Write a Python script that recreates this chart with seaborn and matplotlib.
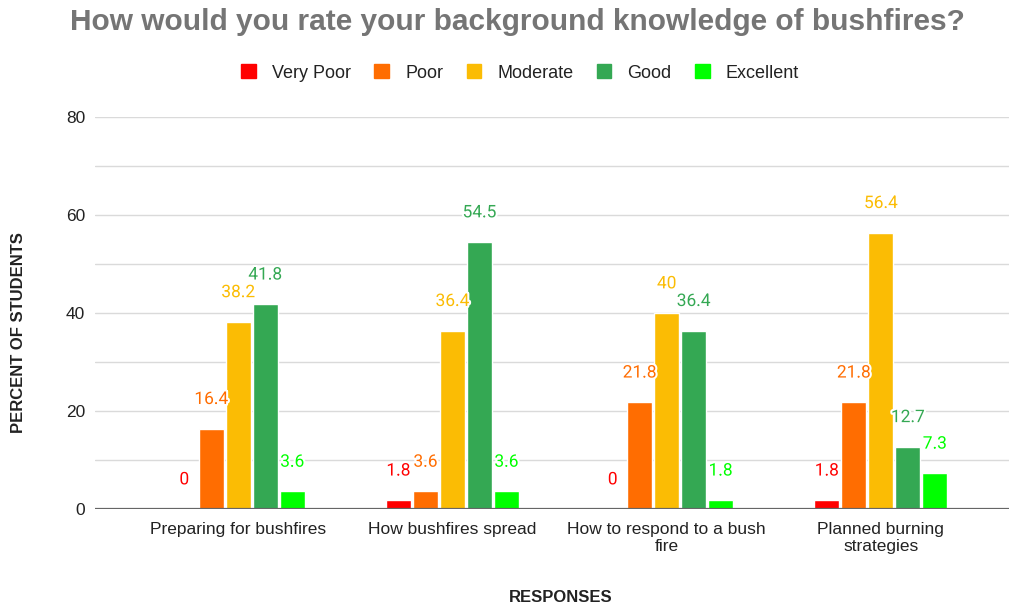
import pandas as pd
import matplotlib.pyplot as plt
import matplotlib.patheffects as pe
import seaborn as sns

categories = ['Preparing for bushfires', 'How bushfires spread',
              'How to respond to a bush\nfire', 'Planned burning\nstrategies']
levels = ['Very Poor', 'Poor', 'Moderate', 'Good', 'Excellent']
very_poor = [0, 1.8, 0, 1.8]
poor = [16.4, 3.6, 21.8, 21.8]
moderate = [38.2, 36.4, 40, 56.4]
good = [41.8, 54.5, 36.4, 12.7]
excellent = [3.6, 3.6, 1.8, 7.3]
colors = ['#ff0000', '#ff6d01', '#fbbc04', '#34a853', '#00ff00']

rows = []
for lvl, vals in zip(levels, [very_poor, poor, moderate, good, excellent]):
    for cat, v in zip(categories, vals):
        rows.append({'Response': cat, 'Rating': lvl, 'Percent': v})
df = pd.DataFrame(rows)

sns.set_style('white')
plt.rcParams['font.family'] = ['Liberation Sans', 'DejaVu Sans']

fig = plt.figure(figsize=(10.16, 6.07), dpi=100)
ax = fig.add_axes([0.0935, 0.1614, 0.9, 0.6458])

sns.barplot(data=df, x='Response', y='Percent', hue='Rating', hue_order=levels,
            palette=colors, width=0.63, gap=0.08, saturation=1, ax=ax,
            legend=False, zorder=3)

ax.set_ylim(0, 80)
ax.set_xlim(-0.669, 3.6)
ax.set_yticks(range(0, 81, 20))
ax.set_yticks(range(0, 81, 10), minor=True)
ax.grid(axis='y', which='both', color='#dadada', linewidth=1, zorder=0)
ax.axhline(0, color='#666666', linewidth=1.6, zorder=4)
for s in ax.spines.values():
    s.set_visible(False)
ax.tick_params(axis='both', length=0, labelsize=12.5, colors='#222222')
ax.tick_params(axis='y', pad=7)
ax.tick_params(axis='x', pad=9)
ax.tick_params(axis='y', which='minor', length=0)

for cont, col in zip(ax.containers, colors):
    for bar in cont:
        x = bar.get_x() + bar.get_width() / 2
        h = bar.get_height()
        ax.annotate(f'{h:g}', (x, h), xytext=(0, 21), textcoords='offset points',
                    ha='center', va='center', fontsize=12.5, color=col,
                    family=['Roboto', 'DejaVu Sans'], zorder=5,
                    path_effects=[pe.withStroke(linewidth=3, foreground='white')])

ax.set_xlabel('')
ax.set_ylabel('')
fig.text(0.552, 1 - 598 / 607, 'RESPONSES', ha='center', va='center',
         fontsize=12, fontweight='bold', color='#222222')
fig.text(19 / 1016, 1 - 333 / 607, 'PERCENT OF STUDENTS', ha='center', va='center',
         rotation=90, fontsize=12, fontweight='bold', color='#222222')

fig.text(0.509, 1 - 22 / 607, 'How would you rate your background knowledge of bushfires?',
         ha='center', va='center', fontsize=21.5, fontweight='bold', color='#757575')

handles = [plt.Rectangle((0, 0), 1, 1, color=c) for c in colors]
fig.legend(handles, levels, loc='center', bbox_to_anchor=(0.512, 1 - 73 / 607), ncol=5,
           frameon=False, fontsize=13, handlelength=0.8, handleheight=0.8,
           columnspacing=1.3, handletextpad=0.9, labelcolor='#222222')

fig.savefig('out.png', dpi=100)
